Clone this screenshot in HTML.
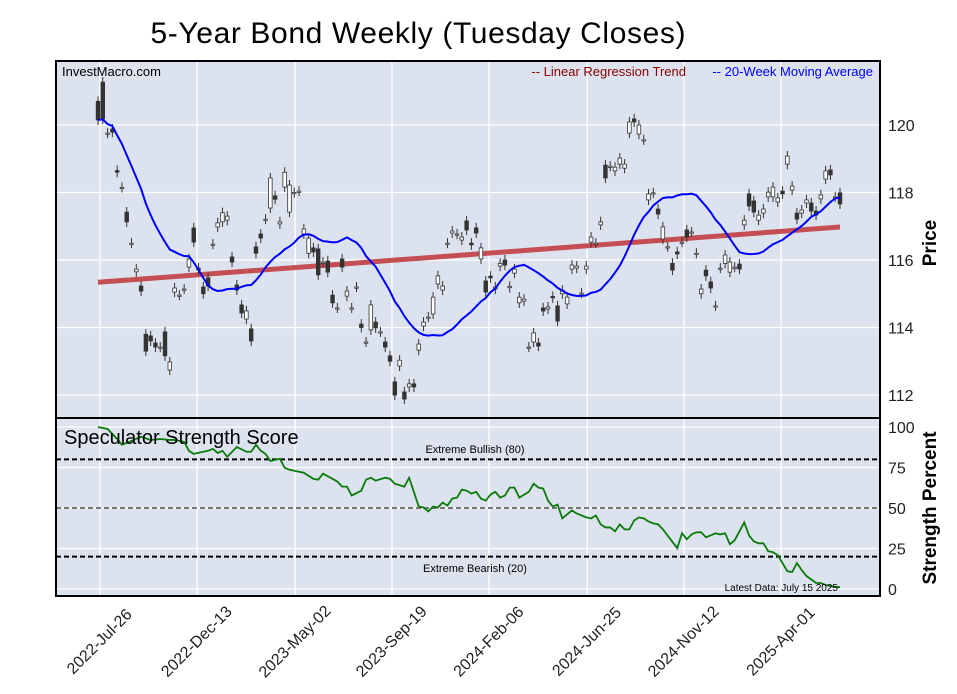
<!DOCTYPE html>
<html><head><meta charset="utf-8"><style>
body{margin:0;background:#fff;}
svg{display:block;font-family:"Liberation Sans",sans-serif;}
</style></head><body>
<svg id="chart" width="957" height="694" viewBox="0 0 957 694">
<text x="418" y="43" font-size="30" text-anchor="middle" textLength="535">5-Year Bond Weekly (Tuesday Closes)</text>
<g id="topPanel"></g>
<g id="botPanel"></g>
<g id="frames"></g>
<text x="62" y="76" font-size="13">InvestMacro.com</text>
<text x="686" y="76" font-size="13" fill="#8b0000" text-anchor="end">-- Linear Regression Trend</text>
<text x="873" y="76" font-size="13" fill="#0000ff" text-anchor="end">-- 20-Week Moving Average</text>
<text x="64" y="444" font-size="20">Speculator Strength Score</text>
<text x="475" y="453" font-size="11" text-anchor="middle">Extreme Bullish (80)</text>
<text x="475" y="572" font-size="11" text-anchor="middle">Extreme Bearish (20)</text>
<text x="838" y="591" font-size="10" text-anchor="end">Latest Data: July 15 2025</text>
<text x="936" y="243" font-size="19" font-weight="bold" text-anchor="middle" transform="rotate(-90 936 243)">Price</text>
<text x="936" y="508" font-size="19" font-weight="bold" text-anchor="middle" transform="rotate(-90 936 508)">Strength Percent</text>
</svg>
<script>
const opens=[120.7,121.27,119.76,119.88,118.65,118.15,117.42,116.5,115.65,115.23,113.8,113.75,113.54,113.42,113.87,112.74,115.05,114.96,115.14,115.79,116.95,115.76,115.2,115.47,116.47,116.98,117.13,117.18,116.09,115.26,114.67,114.25,113.96,116.39,116.77,
117.21,117.54,117.9,117.07,118.16,117.42,118.0,118.04,116.77,116.2,116.36,116.33,115.94,115.97,114.96,114.58,116.03,114.93,114.58,115.2,114.1,113.57,113.93,114.16,113.87,113.57,113.16,112.39,112.86,112.09,112.24,112.33,113.33,114.04,114.31,114.4,115.29,115.11,116.5,116.8,116.77,116.59,
117.16,116.5,116.95,116.03,115.38,115.52,115.14,115.82,116.0,115.18,115.61,114.73,114.78,113.42,113.57,113.54,114.58,114.55,114.92,114.64,115.0,114.7,115.73,115.76,115.02,115.73,116.53,116.5,117.04,118.81,118.78,118.64,118.84,118.72,119.76,120.18,119.73,119.56,117.78,117.99,117.51,116.62,
116.39,115.9,116.24,116.53,116.89,116.83,116.2,115.0,115.7,115.35,114.64,115.76,115.9,115.64,115.79,115.88,117.04,117.96,117.75,117.18,117.39,117.87,117.87,117.72,118.04,118.84,118.07,117.39,117.39,117.69,117.69,117.45,117.81,118.4,118.67,117.87,117.99];
const closes=[120.15,120.18,119.76,119.79,118.6,118.15,117.13,116.5,115.73,115.08,113.3,113.6,113.42,113.42,113.16,112.98,115.17,114.96,115.14,116.03,116.53,115.7,115.0,115.23,116.47,117.1,117.4,117.3,115.94,115.11,114.43,114.49,113.6,116.2,116.65,
117.21,118.43,117.8,117.13,118.6,118.22,118.0,118.04,116.92,116.65,116.24,115.56,115.94,115.64,114.73,114.58,115.79,115.08,114.58,115.2,114.0,113.57,114.67,113.99,113.87,113.42,113.0,112.0,113.03,111.88,112.33,112.24,113.51,114.16,114.31,114.9,115.53,115.23,116.5,116.86,116.77,116.68,
116.89,116.45,116.8,116.36,115.05,115.47,115.2,115.9,115.85,115.22,115.73,114.9,114.84,113.42,113.84,113.45,114.49,114.61,114.88,114.19,115.11,114.9,115.85,115.82,115.02,115.82,116.68,116.5,117.13,118.43,118.78,118.75,119.02,118.84,120.09,120.09,120.0,119.56,117.96,117.99,117.36,116.98,
116.39,115.7,116.18,116.53,116.68,116.83,116.2,115.14,115.53,115.17,114.64,115.76,116.15,115.94,115.79,115.73,117.18,117.6,117.42,117.33,117.51,118.01,118.16,117.84,117.96,119.08,118.19,117.21,117.48,117.78,117.45,117.33,117.93,118.64,118.52,117.87,117.66];
const strengthWeek=[0,2,4,5,7,9,11,13,15,16,18,19,20,22,23,24,25,26,27,29,31,32,33,34,35,36,38,39,40,43,45,46,47,49,50,51,52,53,55,56,57,58,60,61,62,64,65,67,68,69,70,71,72,73,74,75,76,77,78,79,80,81,82,83,84,85,86,87,88,90,91,92,93,94,95,96,97,99,100,102,103,104,105,106,107,108,109,110,111,112,113,114,115,116,117,118,121,122,123,124,125,126,127,129,130,131,132,133,135,136,137,138,139,140,141,142,144,145,146,147,148,150,151,152,154,155];
const strengthVal=[100,98.8,92.6,89,91.4,94,92,92.6,92,92,90.8,85.3,83.4,84.7,85.3,86.5,84,85.3,81.6,87.7,84.7,84.7,89,85.3,83.4,79,80.4,74.8,73.6,71.8,68,67.5,71.2,68,66.3,63.2,63.2,57.7,60.7,67.5,68.7,66.9,68.7,68,65,63.2,68.7,50.9,50.3,47.9,50.9,50.3,53.4,51.5,55.8,56.4,61.3,60.7,58.9,60,55.8,54.6,58.3,60,56.4,57.7,62.6,62.6,56.4,60,65,62.6,62,54.6,50.9,52.1,43.6,48.5,46.6,44.2,43.6,45.4,39.9,38,38,35.6,39.9,36.8,36.8,42.3,44.2,43.6,41.7,40.5,39.9,36.8,25.2,34.4,30.7,33.7,35,35,31.9,34.4,33.7,34.4,27.6,30.1,41.1,33.1,29.4,28.2,28.2,23.3,22.7,20.9,11,10.4,16,11.7,8,3.7,3.7,2.5,1.2,1.2];
const dateLabels=["2022-Jul-26","2022-Dec-13","2023-May-02","2023-Sep-19","2024-Feb-06","2024-Jun-25","2024-Nov-12","2025-Apr-01"];
const dateTickWeek=[0.4,20.7,41.2,61.4,81.7,102.2,122.4,142.7];
const priceTicks=[112,114,116,118,120];
const strengthTicks=[0,25,50,75,100];

const NS="http://www.w3.org/2000/svg";
const L=56,R=880,T=61,MID=418,B=596;
const N=closes.length;
const xw=i=>98+i*(840-98)/(N-1);
const yp=p=>260-(p-116)*33.75;
const ys=v=>589-v*1.62;
function mk(tag,attrs,parent){const e=document.createElementNS(NS,tag);for(const k in attrs)e.setAttribute(k,attrs[k]);parent.appendChild(e);return e;}
const svgEl=document.getElementById('chart');
const topG=document.getElementById('topPanel'),botG=document.getElementById('botPanel'),frG=document.getElementById('frames');

const bg=mk('rect',{x:L,y:T,width:R-L,height:B-T,fill:'#dce3ee'},topG);


dateTickWeek.forEach((w,k)=>{
  const x=xw(w);
  const g=mk('line',{x1:x,x2:x,y1:T,y2:B,stroke:'#fff','stroke-width':1.3},topG);
  
  
  const t=mk('text',{x:x,y:642,'font-size':16,'text-anchor':'middle','dominant-baseline':'central',transform:`rotate(-45 ${x} 642)`,fill:'#222'},svgEl);
  t.textContent=dateLabels[k];
  
  
});
priceTicks.forEach(p=>{
  const y=yp(p);
  const g=mk('line',{x1:L,x2:R,y1:y,y2:y,stroke:'#fff','stroke-width':1.3},topG);
  
  
  const t=mk('text',{x:888,y:y+6,'font-size':16,fill:'#222'},svgEl);
  t.textContent=p;
  
  
});
strengthTicks.forEach(v=>{
  const y=ys(v);
  const g=mk('line',{x1:L,x2:R,y1:y,y2:y,stroke:'#fff','stroke-width':1.3},botG);
  
  
  const t=mk('text',{x:888,y:y+6,'font-size':16,fill:'#222'},svgEl);
  t.textContent=v;
  
  
});
let sx=0,sy=0,sxx=0,sxy=0;
closes.forEach((c,i)=>{sx+=i;sy+=c;sxx+=i*i;sxy+=i*c;});
const slope=(N*sxy-sx*sy)/(N*sxx-sx*sx),icpt=(sy-slope*sx)/N;
const reg=mk('line',{x1:xw(0),y1:yp(icpt),x2:xw(N-1),y2:yp(icpt+slope*(N-1)),stroke:'#c44e52','stroke-width':5},topG);


closes.forEach((c,i)=>{
  const o=opens[i],x=xw(i),hi=Math.max(o,c),lo=Math.min(o,c);
  const w=mk('line',{x1:x,x2:x,y1:yp(hi+0.15),y2:yp(lo-0.15),stroke:'#333','stroke-width':1},topG);
  
  
  const h=Math.max(1.2,yp(lo)-yp(hi));
  const b=mk('rect',{x:x-1.8,y:yp(hi),width:3.6,height:h,fill:c<o?'#333':'#fff',stroke:'#333','stroke-width':0.8},topG);
  
  
});
const ma=[];
closes.forEach((c,i)=>{const s=closes.slice(Math.max(0,i-19),i+1);ma.push(s.reduce((a,b)=>a+b,0)/s.length);});
const mp=mk('polyline',{points:ma.map((v,i)=>xw(i)+','+yp(v)).join(' '),fill:'none',stroke:'#0000ff','stroke-width':2},topG);


[[80,'#000'],[50,'#777'],[20,'#000']].forEach(([v,col])=>{
  const d=mk('line',{x1:L,x2:R,y1:ys(v),y2:ys(v),stroke:col,'stroke-width':2,'stroke-dasharray':'5,3'},botG);
  
  
});
const sp=mk('polyline',{points:strengthWeek.map((w,k)=>xw(w)+','+ys(strengthVal[k])).join(' '),fill:'none',stroke:'#0a7a0a','stroke-width':1.8},botG);


const f1=mk('rect',{x:L,y:T,width:R-L,height:MID-T,fill:'none',stroke:'#000','stroke-width':2},frG);


const f2=mk('rect',{x:L,y:MID,width:R-L,height:B-MID,fill:'none',stroke:'#000','stroke-width':2},frG);


</script>
</body></html>
